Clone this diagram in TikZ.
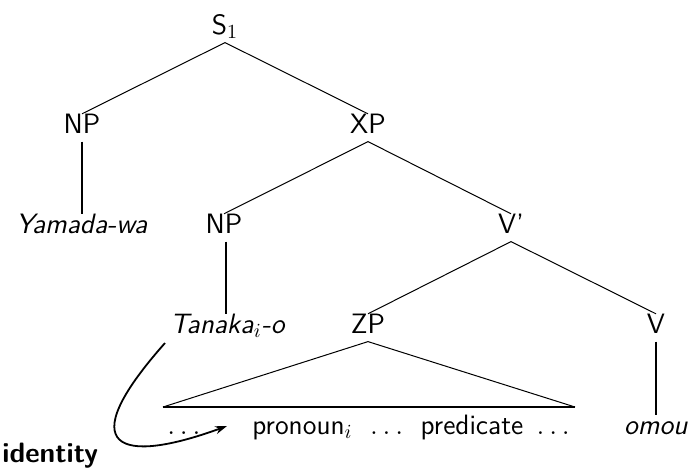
\documentclass[tikz,border=0pt]{standalone}
\usetikzlibrary{arrows.meta}
\begin{document}
\begin{tikzpicture}[x=0.5pt,y=-0.5pt,
  font=\sffamily\fontsize{14}{17}\selectfont,
  lab/.style={inner sep=2.5pt,text height=0.69em,text depth=0.16em,anchor=base},
  line/.style={inner sep=0pt,anchor=base west},
  branch/.style={line width=0.5pt},
  stem/.style={line width=1pt},
  bind/.style={line width=0.9pt,-{Stealth[length=6pt,width=4pt]}}]
\useasboundingbox (0,0) rectangle (691,468);

% category labels and words, placed on their baselines
\node[lab] (s)   at (225,34)  {S$_1$};
\node[lab] (np1) at (82,133)  {NP};
\node[lab] (xp)  at (368,133) {XP};
\node[lab] (yw)  at (82,233)  {\textit{Yamada-wa}};
\node[lab] (np2) at (224,233) {NP};
\node[lab] (vb)  at (511,233) {V'};
\node[lab] (tn)  at (228,333) {\textit{Tanaka}$_i$\textit{-o}};
\node[lab] (zp)  at (368,333) {ZP};
\node[lab] (v)   at (656,333) {V};
\node[lab] (om)  at (656,434) {\textit{omou}};
\node[line] (dots) at (167,434) {$\ldots$};
\node[line] (pp)   at (252,434) {pronoun$_i$\hspace{0.3em} $\ldots$\hspace{0.3em} predicate\hspace{0.15em} $\ldots$};
\node[line,font=\sffamily\bfseries\fontsize{14}{17}\selectfont] (id) at (2,462) {identity};

% tree branches
\draw[branch] (s.south) -- (np1.north);
\draw[branch] (s.south) -- (xp.north);
\draw[branch] (xp.south) -- (np2.north);
\draw[branch] (xp.south) -- (vb.north);
\draw[branch] (vb.south) -- (zp.north);
\draw[branch] (vb.south) -- (v.north);
\draw[stem] (np1.south) -- (np1.south |- yw.north);
\draw[stem] ([xshift=1]np2.south) -- ([xshift=1]np2.south |- tn.north);
\draw[stem] (v.south) -- (v.south |- om.north);

% ZP spelled out as a triangle
\coordinate (tl) at (163,407);
\coordinate (tr) at (575,407);
\draw[branch] (tl) -- (zp.south) -- (tr);
\draw[stem] (tl) -- (tr);

% binding arrow from the antecedent to the pronoun position
\coordinate (tnfoot) at (165,343);
\coordinate (tip) at (227,426);
\draw[bind] (tnfoot) .. controls (70,450) and (120,465) .. (tip);
\end{tikzpicture}
\end{document}
